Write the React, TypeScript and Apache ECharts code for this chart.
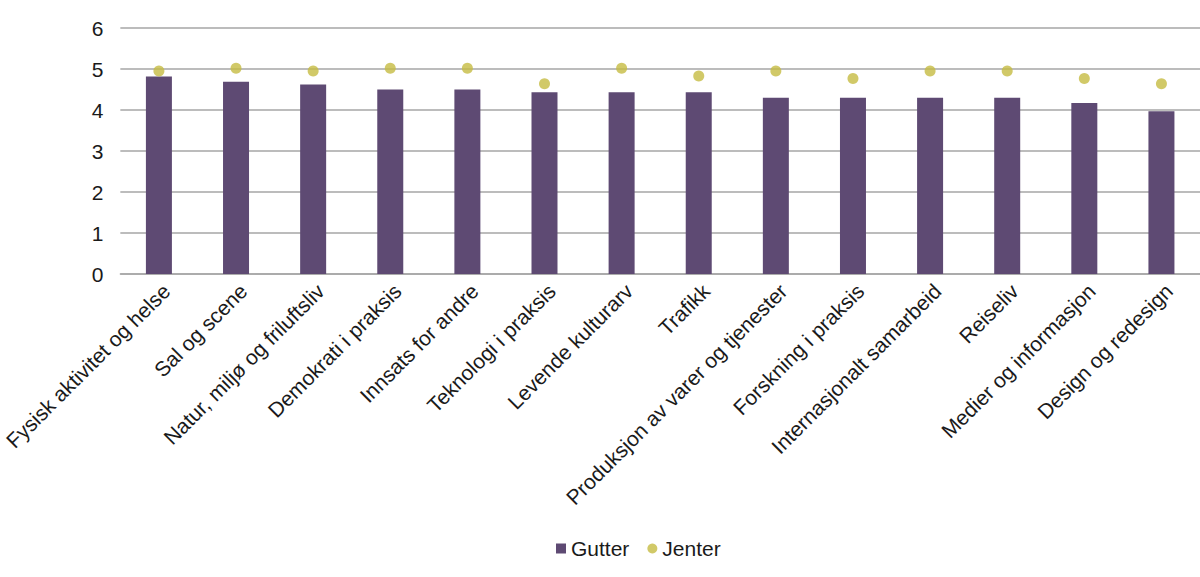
import React, { useEffect, useRef } from "react";
import * as echarts from "echarts";

const categories = [
  "Fysisk aktivitet og helse",
  "Sal og scene",
  "Natur, miljø og friluftsliv",
  "Demokrati i praksis",
  "Innsats for andre",
  "Teknologi i praksis",
  "Levende kulturarv",
  "Trafikk",
  "Produksjon av varer og tjenester",
  "Forskning i praksis",
  "Internasjonalt samarbeid",
  "Reiseliv",
  "Medier og informasjon",
  "Design og redesign",
];

const gutter = [4.82, 4.69, 4.62, 4.5, 4.5, 4.43, 4.43, 4.43, 4.3, 4.3, 4.3, 4.3, 4.17, 3.97];
const jenter = [4.95, 5.02, 4.95, 5.02, 5.02, 4.64, 5.02, 4.83, 4.95, 4.77, 4.95, 4.95, 4.77, 4.64];

const yTicks = [0, 1, 2, 3, 4, 5, 6];

const FONT = "Liberation Sans, Arial, sans-serif";

export default function App() {
  const ref = useRef<HTMLDivElement>(null);

  useEffect(() => {
    document.body.style.margin = "0";
    if (!ref.current) return;
    const chart = echarts.init(ref.current, undefined, { renderer: "svg" });
    chart.setOption({
      animation: false,
      textStyle: { fontFamily: FONT },
      grid: { left: 120, right: 0, top: 28, bottom: 303, containLabel: false },
      legend: {
        data: [
          { name: "Gutter", icon: "rect" },
          { name: "Jenter", icon: "circle" },
        ],
        left: 551,
        top: 533,
        itemWidth: 10,
        itemHeight: 10,
        itemGap: 18,
        textStyle: { fontSize: 21, color: "#1a1a1a", fontFamily: FONT },
      },
      xAxis: {
        type: "category",
        data: categories,
        axisLine: { show: true, lineStyle: { color: "#a6a6a6", width: 1.5 } },
        axisTick: { show: false },
        axisLabel: {
          rotate: 45,
          interval: 0,
          fontSize: 21,
          color: "#1a1a1a",
          margin: 6,
          verticalAlign: "top",
          fontFamily: FONT,
        },
      },
      yAxis: {
        type: "value",
        min: yTicks[0],
        max: yTicks[yTicks.length - 1],
        interval: 1,
        axisLine: { show: false },
        axisTick: { show: false },
        splitLine: { lineStyle: { color: "#a6a6a6", width: 1.5 } },
        axisLabel: { fontSize: 21, color: "#1a1a1a", margin: 17, fontFamily: FONT },
      },
      series: [
        {
          name: "Gutter",
          type: "bar",
          data: gutter,
          barWidth: 26,
          itemStyle: { color: "#5e4a73" },
        },
        {
          name: "Jenter",
          type: "scatter",
          data: jenter,
          symbol: "circle",
          symbolSize: 11,
          itemStyle: { color: "#c6bc42" },
        },
      ],
    });
    return () => chart.dispose();
  }, []);

  return <div ref={ref} style={{ width: 1200, height: 577 }} />;
}
